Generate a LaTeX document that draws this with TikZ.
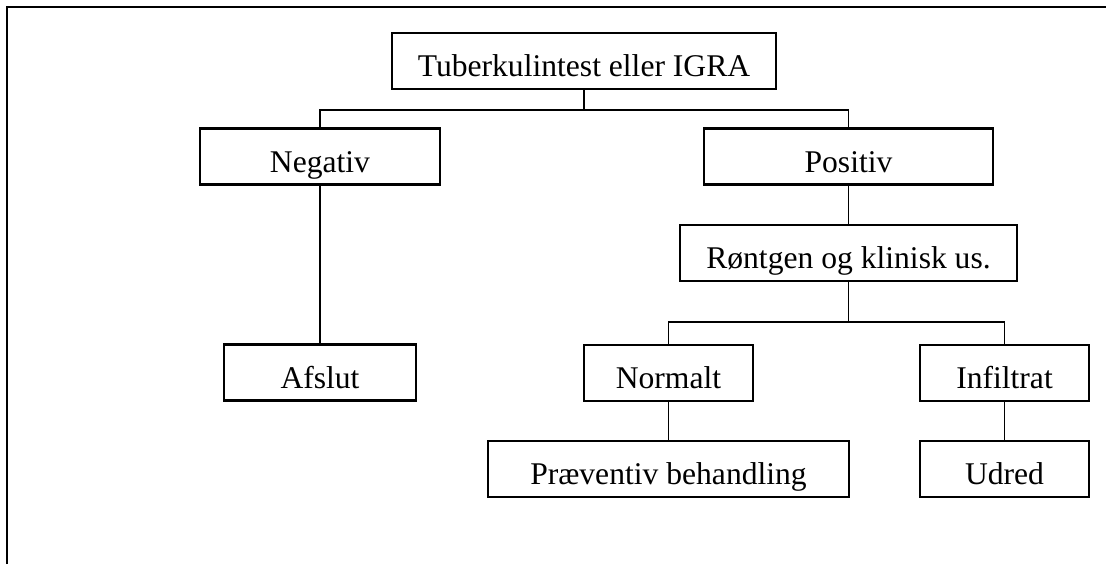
\documentclass[tikz,border=0pt]{standalone}
\usepackage{fontspec}
\setmainfont{Liberation Serif}

\begin{document}
\begin{tikzpicture}[x=0.5pt, y=-0.5pt,
  box/.style={draw, line width=1.1pt, minimum height=28pt, inner sep=0pt, text height=15.5pt, text depth=0pt, font=\fontsize{15.8}{19}\selectfont},
  link/.style={line width=0.65pt}]
\useasboundingbox (0,0) rectangle (1106,564);
\draw[line width=1pt] (7,564) -- (7,7) -- (1106,7);
\node[box, minimum width=192pt](t1) at (584,61) {Tuberkulintest eller IGRA};
\node[box, minimum width=120pt](n1) at (320,156.5) {Negativ};
\node[box, minimum width=144.5pt](p1) at (848.5,156.5) {Positiv};
\node[box, minimum width=96pt](a1) at (320,372.5) {Afslut};
\node[box, minimum width=168.5pt](r1) at (848.5,253) {Røntgen og klinisk us.};
\node[box, minimum width=84.5pt](n2) at (668.5,373) {Normalt};
\node[box, minimum width=84.5pt](i1) at (1004.5,373) {Infiltrat};
\node[box, minimum width=180.5pt](p2) at (668.5,469) {Præventiv behandling};
\node[box, minimum width=84.5pt](u1) at (1004.5,469) {Udred};
\draw[link] (t1.south) -- ++(0,20) -| (n1.north);
\draw[link] (t1.south) -- ++(0,20) -| (p1.north);
\draw[link] (n1) -- (a1);
\draw[link] (p1) -- (r1);
\draw[link] (r1.south) -- ++(0,40) -| (n2.north);
\draw[link] (r1.south) -- ++(0,40) -| (i1.north);
\draw[link] (n2) -- (p2);
\draw[link] (i1) -- (u1);
\end{tikzpicture}
\end{document}
